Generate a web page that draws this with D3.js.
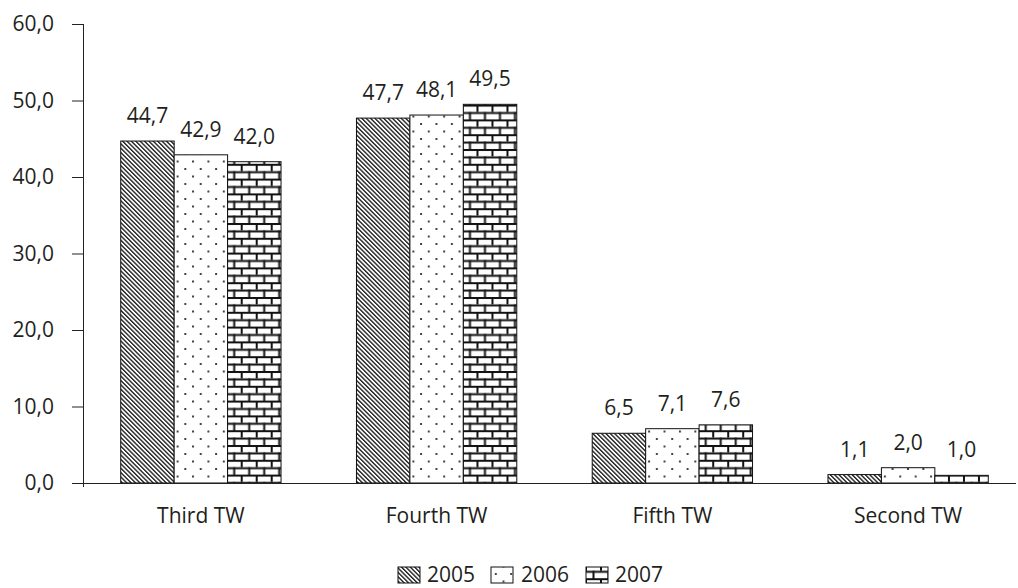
<!DOCTYPE html>
<html>
<head>
<meta charset="utf-8">
<script src="https://cdn.jsdelivr.net/npm/d3@7/dist/d3.min.js"></script>
<style>
  html, body { margin: 0; padding: 0; background: #fff; }
  text { font-family: "Open Sans", "DejaVu Sans", sans-serif; fill: #231f20; }
</style>
</head>
<body>
<svg id="chart" width="1018" height="588"></svg>
<script>
const categories = ["Third TW", "Fourth TW", "Fifth TW", "Second TW"];
const seriesNames = ["2005", "2006", "2007"];
const values2005 = [44.7, 47.7, 6.5, 1.1];
const values2006 = [42.9, 48.1, 7.1, 2.0];
const values2007 = [42.0, 49.5, 7.6, 1.0];
const yTicks = [0, 10, 20, 30, 40, 50, 60];

const seriesValues = [values2005, values2006, values2007];
const fmt = v => d3.format(".1f")(v).replace(".", ",");
const FS = "21px";

const svg = d3.select("#chart");
const defs = svg.append("defs");

// 2005: diagonal hatch "\\"
const p1 = defs.append("pattern").attr("id", "pat2005")
  .attr("patternUnits", "userSpaceOnUse").attr("width", 3.1).attr("height", 10)
  .attr("patternTransform", "rotate(-45)");
p1.append("rect").attr("width", 3.1).attr("height", 10).attr("fill", "#fff");
p1.append("line").attr("x1", 0.7).attr("x2", 0.7).attr("y1", 0).attr("y2", 10)
  .attr("stroke", "#222").attr("stroke-width", 1.4);

// 2006: dots
const p2 = defs.append("pattern").attr("id", "pat2006")
  .attr("patternUnits", "userSpaceOnUse").attr("width", 15.4).attr("height", 15)
  .attr("x", 2).attr("y", 3);
p2.append("rect").attr("width", 15.4).attr("height", 15).attr("fill", "#fff");
p2.append("rect").attr("x", 0).attr("y", 0).attr("width", 2).attr("height", 2).attr("fill", "#444");
p2.append("rect").attr("x", 7.7).attr("y", 7.5).attr("width", 2).attr("height", 2).attr("fill", "#444");

// 2007: bricks
const bw = 15, bh = 7.4;
const p3 = defs.append("pattern").attr("id", "pat2007")
  .attr("patternUnits", "userSpaceOnUse").attr("width", bw).attr("height", bh * 2)
  .attr("x", 0).attr("y", 1);
p3.append("rect").attr("width", bw).attr("height", bh * 2).attr("fill", "#fff");
p3.append("rect").attr("x", 0).attr("y", 0).attr("width", bw).attr("height", 2).attr("fill", "#111");
p3.append("rect").attr("x", 0).attr("y", bh).attr("width", bw).attr("height", 2).attr("fill", "#111");
p3.append("rect").attr("x", 0).attr("y", 0).attr("width", 2).attr("height", bh).attr("fill", "#111");
p3.append("rect").attr("x", bw / 2).attr("y", bh).attr("width", 2).attr("height", bh).attr("fill", "#111");

const fills = ["url(#pat2005)", "url(#pat2006)", "url(#pat2007)"];

const y = d3.scaleLinear().domain([0, 60]).range([483, 24]);
const x0 = d3.scaleBand().domain(categories).range([83, 1026])
  .paddingInner(0.32).paddingOuter(0.16);
const x1 = d3.scaleBand().domain(seriesNames).range([0, x0.bandwidth()]).padding(0);

// Y axis
const yAxis = d3.axisLeft(y).tickValues(yTicks).tickFormat(fmt).tickSize(11).tickPadding(18);
const gy = svg.append("g").attr("transform", "translate(83,0)").call(yAxis);
gy.select(".domain").remove();
gy.selectAll(".tick line").attr("stroke", "#222");
gy.selectAll(".tick text").style("font-size", FS).attr("fill", "#231f20")
  .style("font-family", "'Open Sans', sans-serif");
svg.append("line").attr("x1", 83.5).attr("x2", 83.5).attr("y1", y(60)).attr("y2", y(0) + 4)
  .attr("stroke", "#222");

// Bars
const groups = svg.append("g").selectAll("g").data(categories).join("g")
  .attr("transform", d => `translate(${x0(d)},0)`);

groups.each(function(cat, ci) {
  const g = d3.select(this);
  seriesNames.forEach((s, si) => {
    const v = seriesValues[si][ci];
    g.append("rect")
      .attr("x", x1(s)).attr("y", y(v))
      .attr("width", x1.bandwidth()).attr("height", y(0) - y(v))
      .attr("fill", fills[si]).attr("stroke", "#111").attr("stroke-width", 1);
    g.append("text")
      .attr("x", x1(s) + x1.bandwidth() / 2).attr("y", y(v) - 18)
      .attr("text-anchor", "middle").style("font-size", FS)
      .text(fmt(v));
  });
});

// X axis line
svg.append("line").attr("x1", 72).attr("x2", 1016).attr("y1", y(0) + 0.5).attr("y2", y(0) + 0.5)
  .attr("stroke", "#222");

// Category labels
const xAxis = d3.axisBottom(x0).tickSize(0).tickPadding(25);
const gx = svg.append("g").attr("transform", `translate(0,${y(0)})`).call(xAxis);
gx.select(".domain").remove();
gx.selectAll(".tick text").style("font-size", FS).attr("fill", "#231f20")
  .style("font-family", "'Open Sans', sans-serif");

// Legend
const legendItems = [
  { name: "2005", sx: 398, tx: 427 },
  { name: "2006", sx: 491, tx: 521 },
  { name: "2007", sx: 586, tx: 615 }
];
const lg = svg.append("g");
legendItems.forEach((d, i) => {
  lg.append("rect").attr("x", d.sx).attr("y", 567).attr("width", 22).attr("height", 16)
    .attr("fill", fills[i]).attr("stroke", "#111").attr("stroke-width", 1);
  lg.append("text").attr("x", d.tx).attr("y", 582).style("font-size", FS).text(d.name);
});
</script>
</body>
</html>
